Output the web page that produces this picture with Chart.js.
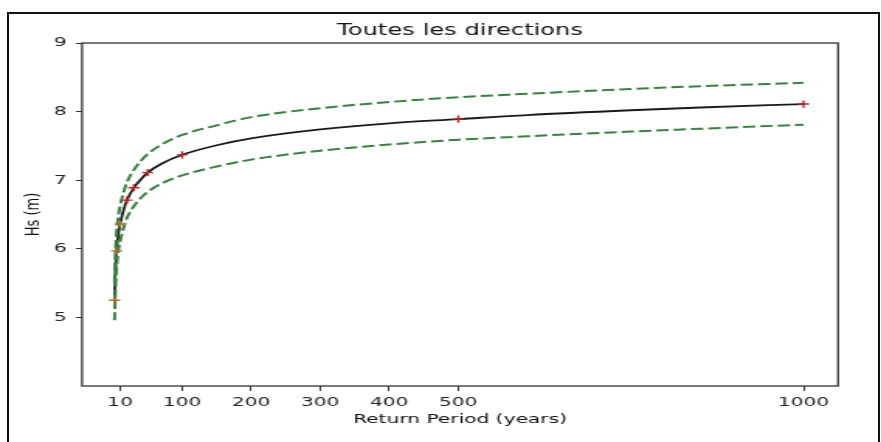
<!DOCTYPE html>
<html>
<head>
<meta charset="utf-8">
<script src="https://cdn.jsdelivr.net/npm/chart.js@4.4.1/dist/chart.umd.min.js"></script>
<style>
  html, body { margin: 0; padding: 0; background: #fff; overflow: hidden; }
  #wrap { position: relative; width: 881px; height: 442px; }
  #c { position: absolute; left: 0; top: 0; transform-origin: 0 0; transform: scaleX(1.5511); }
  #frame { position: absolute; left: 7px; top: 12px; width: 873px; height: 440px; box-sizing: border-box;
           border-left: 2px solid #111; border-top: 2px solid #111; border-right: 2px solid #111; pointer-events: none; }
</style>
</head>
<body>
<div id="wrap">
  <canvas id="c" width="568" height="442"></canvas>
  <div id="frame"></div>
</div>
<script>
// ---- data ----
const returnPeriods = [2, 3, 4, 5, 7, 10, 15, 20, 30, 40, 50, 70, 100, 150, 200, 300, 400, 500, 600, 750, 850, 1000];
const hsFit   = [5.26, 5.60, 5.82, 5.98, 6.18, 6.36, 6.56, 6.71, 6.89, 7.01, 7.11, 7.24, 7.37, 7.51, 7.61, 7.74, 7.83, 7.89, 7.95, 8.02, 8.06, 8.11];
const hsUpper = [5.52, 5.86, 6.08, 6.24, 6.44, 6.62, 6.82, 6.97, 7.15, 7.28, 7.38, 7.52, 7.66, 7.80, 7.92, 8.05, 8.14, 8.21, 8.26, 8.33, 8.37, 8.42];
const hsLower = [4.96, 5.32, 5.55, 5.72, 5.93, 6.10, 6.30, 6.45, 6.62, 6.74, 6.83, 6.95, 7.07, 7.20, 7.30, 7.43, 7.52, 7.59, 7.64, 7.71, 7.75, 7.81];

const obsPeriods = [2, 5, 10];
const obsHs      = [5.25, 5.97, 6.36];
const rlPeriods  = [20, 30, 50, 100, 500, 1000];
const rlHs       = [6.71, 6.89, 7.11, 7.37, 7.89, 8.11];

const xTickValues = [10, 100, 200, 300, 400, 500, 1000];
const yTickValues = [5, 6, 7, 8, 9];

const titleText = 'Toutes les directions';
const xTitle = 'Return Period (years)';
const yTitle = 'Hs (m)';

const pts = (xs, ys) => xs.map((x, i) => ({ x: x, y: ys[i] }));

const frameBox = {
  id: 'frameBox',
  afterDatasetsDraw(chart) {
    const a = chart.chartArea, ctx = chart.ctx;
    ctx.save();
    ctx.strokeStyle = '#333';
    ctx.lineWidth = 1.3;
    ctx.strokeRect(a.left, a.top, a.right - a.left, a.bottom - a.top);
    ctx.restore();
  }
};

const FONT = "'DejaVu Sans', sans-serif";

new Chart(document.getElementById('c'), {
  type: 'scatter',
  data: {
    datasets: [
      { data: pts(rlPeriods, rlHs), pointStyle: 'cross', pointRadius: 3.6, pointBorderWidth: 1.4,
        borderColor: '#b82828', backgroundColor: '#b82828', showLine: false },
      { data: pts(obsPeriods, obsHs), pointStyle: 'cross', pointRadius: 3.6, pointBorderWidth: 1.4,
        borderColor: '#a8742e', backgroundColor: '#a8742e', showLine: false },
      { data: pts(returnPeriods, hsUpper), showLine: true, pointRadius: 0, borderColor: '#3a8042',
        borderWidth: 2, borderDash: [8, 3.2], cubicInterpolationMode: 'monotone' },
      { data: pts(returnPeriods, hsLower), showLine: true, pointRadius: 0, borderColor: '#3a8042',
        borderWidth: 2, borderDash: [8, 3.2], cubicInterpolationMode: 'monotone' },
      { data: pts(returnPeriods, hsFit), showLine: true, pointRadius: 0, borderColor: '#1a1a1a',
        borderWidth: 1.8, cubicInterpolationMode: 'monotone' }
    ]
  },
  options: {
    responsive: false,
    animation: false,
    devicePixelRatio: 1,
    layout: { padding: { left: 0, right: 27.7, top: 0, bottom: 0 } },
    plugins: {
      legend: { display: false },
      tooltip: { enabled: false },
      title: {
        display: true, text: titleText, fullSize: false, color: '#111',
        font: { family: FONT, size: 15.6, weight: 'normal', lineHeight: 1.2 },
        padding: { top: 21.5, bottom: 2.8 }
      }
    },
    scales: {
      x: {
        type: 'linear', min: -45, max: 1050,
        afterBuildTicks: s => { s.ticks = xTickValues.map(v => ({ value: v })); },
        afterFit: s => { s.height = 56; },
        ticks: { autoSkip: false, maxRotation: 0, color: '#222', padding: 3.5,
                 font: { family: FONT, size: 13 }, callback: v => String(v) },
        grid: { display: true, drawOnChartArea: false, drawTicks: true, tickLength: 5, tickColor: '#333', tickWidth: 1 },
        border: { display: false },
        title: { display: true, text: xTitle, color: '#111', font: { family: FONT, size: 13 },
                 padding: { top: 0, bottom: 14.5 } }
      },
      y: {
        type: 'linear', min: 4, max: 9,
        afterBuildTicks: s => { s.ticks = yTickValues.map(v => ({ value: v })); },
        afterFit: s => { s.width = 52.9; },
        ticks: { color: '#222', padding: 6, font: { family: FONT, size: 13 }, callback: v => String(v) },
        grid: { display: true, drawOnChartArea: false, drawTicks: true, tickLength: 4, tickColor: '#333', tickWidth: 1 },
        border: { display: false },
        title: { display: true, text: yTitle, color: '#111', font: { family: FONT, size: 13 },
                 padding: { top: 13.5, bottom: 0 } }
      }
    }
  },
  plugins: [frameBox]
});
</script>
</body>
</html>
